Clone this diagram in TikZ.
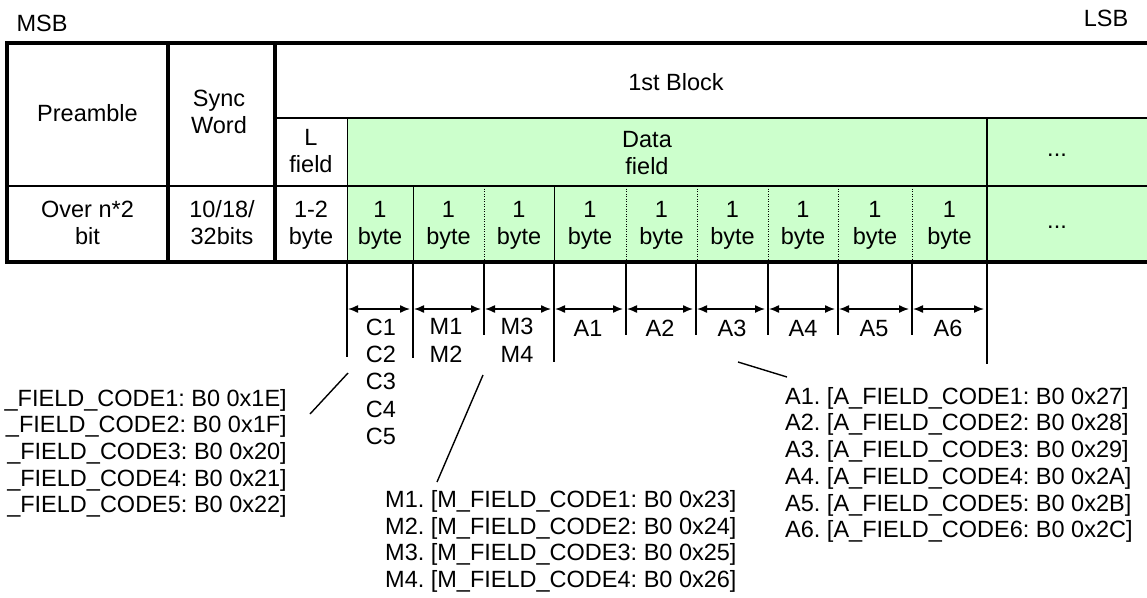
\documentclass[tikz,border=0pt]{standalone}
\usepackage{fontspec}
\setmainfont{Liberation Sans}
\usetikzlibrary{arrows.meta}
\definecolor{datagreen}{HTML}{CCFFCC}
\frenchspacing
\begin{document}
\begin{tikzpicture}[x=1pt,y=-1pt,
  lbl/.style={inner sep=0pt, font=\fontsize{23.5}{27}\selectfont, align=center,
    execute at begin node=\strut, execute at end node=\strut},
  lstc/.style={lbl, font=\fontsize{23.5}{27.3}\selectfont},
  lstm/.style={lbl, font=\fontsize{23.5}{26.7}\selectfont},
  thickline/.style={line width=3.4pt},
  rowline/.style={line width=1.5pt},
  cellline/.style={line width=1pt},
  dotline/.style={line width=1pt, dash pattern=on 1pt off 1.5pt},
  tick/.style={line width=1.4pt},
  dim/.style={line width=1.4pt, {Latex[length=10pt,width=8pt]}-{Latex[length=10pt,width=8pt]}},
  lead/.style={line width=1.4pt}]
\useasboundingbox (0,0) rectangle (1147,597);
\clip (0,0) rectangle (1147,597);

% labels MSB / LSB
\node[lbl] (msb) at (42,26.5) {MSB};
\node[lbl] (lsb) at (1106,21.5) {LSB};

% table fill and grid
\fill[datagreen] (347,118) rectangle (1147,262);
\draw[rowline] (275,118) -- (1147,118);
\draw[rowline] (7,186) -- (1147,186);
\draw[cellline] (347,118) -- (347,262);
\draw[line width=2pt] (987,118) -- (987,262);
\foreach \x in {413,554} \draw[cellline] (\x,186) -- (\x,262);
\foreach \x in {484,626,697,768,838,912} \draw[dotline] (\x,186) -- (\x,262);
\draw[thickline] (1147,43) -- (7,43) -- (7,262) -- (1147,262);
\draw[thickline] (168,43) -- (168,262);
\draw[thickline] (275,43) -- (275,262);

% table texts
\node[lbl] (pre) at (87.5,116) {Preamble};
\node[lbl] (sync) at (219,115.5) {Sync\\Word};
\node[lbl] (lf) at (311,154.5) {L\\field};
\node[lbl] (over) at (87.5,226.5) {Over n*2\\bit};
\node[lbl] (syncbits) at (222,226.5) {10/18/\\32bits};
\node[lbl] (lbyte) at (311,226.5) {1-2\\byte};
\node[lbl] (blk) at (676,85) {1st Block};
\node[lbl] (data) at (647,156.5) {Data\\field};
\node[lbl] (dots1) at (1057,151.5) {...};
\node[lbl] (dots2) at (1057,223.5) {...};
\foreach \x [count=\i] in {380,448.5,519,590,661.5,732.5,803,875,949.5}
  \node[lbl] (by\i) at (\x,226.5) {1\\byte};

% ticks below the table
\draw[tick] (347,262) -- (347,357);
\draw[tick] (413,262) -- (413,358);
\draw[tick] (484,262) -- (484,335);
\draw[tick] (554,262) -- (554,362);
\foreach \x in {626,696,768,838,912} \draw[tick] (\x,262) -- (\x,335);
\draw[tick] (987,262) -- (987,364);

% dimension arrows
\foreach \a/\b [count=\i] in {347/413,413/484,484/554,554/626,626/696,696/768,768/838,838/912,912/987}{
  \coordinate (s\i) at (\a+1,309);
  \coordinate (e\i) at (\b-3,309);
  \draw[dim] (s\i) -- (e\i);
}

% labels under arrows
\node[lstc] (clist) at (381,385.6) {C1\\C2\\C3\\C4\\C5};
\node[lstc] (m12) at (446,344.5) {M1\\M2};
\node[lstc] (m34) at (517,344.5) {M3\\M4};
\foreach \x [count=\i] in {588,660,732,803,874,948}
  \node[lbl] (a\i) at (\x,331) {A\i};

% code lists
\node[lstm, align=right, anchor=east] (ctext) at (287,455) {\_FIELD\_CODE1: B0 0x1E]\\\_FIELD\_CODE2: B0 0x1F]\\\_FIELD\_CODE3: B0 0x20]\\\_FIELD\_CODE4: B0 0x21]\\\_FIELD\_CODE5: B0 0x22]};
\node[lstm, align=left, anchor=west] (mtext) at (385,543) {M1. [M\_FIELD\_CODE1: B0 0x23]\\M2. [M\_FIELD\_CODE2: B0 0x24]\\M3. [M\_FIELD\_CODE3: B0 0x25]\\M4. [M\_FIELD\_CODE4: B0 0x26]};
\node[lstm, align=left, anchor=west] (atext) at (785,466.5) {A1. [A\_FIELD\_CODE1: B0 0x27]\\A2. [A\_FIELD\_CODE2: B0 0x28]\\A3. [A\_FIELD\_CODE3: B0 0x29]\\A4. [A\_FIELD\_CODE4: B0 0x2A]\\A5. [A\_FIELD\_CODE5: B0 0x2B]\\A6. [A\_FIELD\_CODE6: B0 0x2C]};

% leader lines
\coordinate (c1) at (348,373); \coordinate (c2) at (310,414);
\coordinate (m1) at (483,375); \coordinate (m2) at (437,482);
\coordinate (q1) at (738,362); \coordinate (q2) at (787,377);
\draw[lead] (c1) -- (c2);
\draw[lead] (m1) -- (m2);
\draw[lead] (q1) -- (q2);
\end{tikzpicture}
\end{document}
